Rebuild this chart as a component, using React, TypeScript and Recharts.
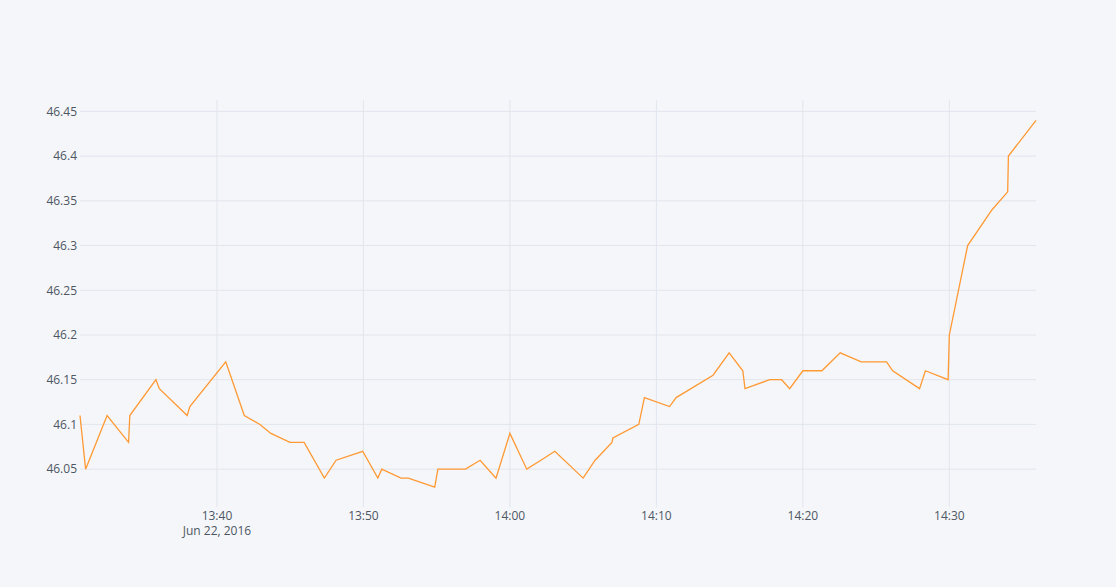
import { LineChart, Line, XAxis, YAxis, CartesianGrid } from "recharts";

const DAY = "2016-06-22";

const TIMES = [
  "13:30:39", "13:31:02", "13:32:30", "13:33:58", "13:34:03", "13:35:50",
  "13:36:04", "13:37:58", "13:38:09", "13:40:36", "13:41:52", "13:42:56",
  "13:43:41", "13:44:59", "13:45:57", "13:47:20", "13:48:08", "13:49:57",
  "13:50:59", "13:51:15", "13:52:34", "13:53:04", "13:54:52", "13:55:05",
  "13:56:58", "13:57:58", "13:59:03", "14:00:00", "14:01:09", "14:02:07",
  "14:03:04", "14:05:00", "14:05:49", "14:06:58", "14:07:02", "14:08:48",
  "14:09:11", "14:10:54", "14:11:21", "14:13:52", "14:14:58", "14:15:54",
  "14:16:03", "14:17:44", "14:18:33", "14:19:06", "14:20:00", "14:21:18",
  "14:22:33", "14:23:59", "14:25:43", "14:26:08", "14:27:58", "14:28:22",
  "14:29:55", "14:30:00", "14:31:15", "14:32:55", "14:33:59", "14:34:02",
  "14:35:55",
];

const PRICES = [
  46.11, 46.05, 46.11, 46.08, 46.11, 46.15,
  46.14, 46.11, 46.12, 46.17, 46.11, 46.1,
  46.09, 46.08, 46.08, 46.04, 46.06, 46.07,
  46.04, 46.05, 46.04, 46.04, 46.03, 46.05,
  46.05, 46.06, 46.04, 46.09, 46.05, 46.06,
  46.07, 46.04, 46.06, 46.08, 46.085, 46.1,
  46.13, 46.12, 46.13, 46.155, 46.18, 46.16,
  46.14, 46.15, 46.15, 46.14, 46.16, 46.16,
  46.18, 46.17, 46.17, 46.16, 46.14, 46.16,
  46.15, 46.2, 46.3, 46.34, 46.36, 46.4,
  46.44,
];

const X_TICKS = ["13:40", "13:50", "14:00", "14:10", "14:20", "14:30"];
const DATE_LABEL = "Jun 22, 2016";
const Y_TICKS = [46.05, 46.1, 46.15, 46.2, 46.25, 46.3, 46.35, 46.4, 46.45];

const toMs = (t: string) => {
  const [h, m, s] = t.split(":").map(Number);
  const [y, mo, d] = DAY.split("-").map(Number);
  return Date.UTC(y, mo - 1, d, h, m, s || 0);
};

const data = TIMES.map((t, i) => ({ t: toMs(t), price: PRICES[i] }));
const xTicks = X_TICKS.map(toMs);

const TEXT = "#4D5663";
const GRID = "#E1E5ED";
const BG = "#F5F6F9";
const FONT = "'Open Sans', sans-serif";

// time on the first line, date under the first tick only (plotly style)
function TimeTick(props: any) {
  const { x, y, payload, index } = props;
  const label = X_TICKS[xTicks.indexOf(payload.value)] ?? "";
  return (
    <g>
      <text x={x} y={y + 13} textAnchor="middle" fill={TEXT} fontSize={12} fontFamily={FONT}>
        {label}
      </text>
      {index === 0 && (
        <text x={x} y={y + 28} textAnchor="middle" fill={TEXT} fontSize={12} fontFamily={FONT}>
          {DATE_LABEL}
        </text>
      )}
    </g>
  );
}

const scaleOf = (axis: any) => {
  const s = axis?.scale;
  if (!s) return null;
  return typeof s === "function" ? s : typeof s.map === "function" ? (v: number) => s.map(v) : null;
};

export default function App() {
  return (
    <div style={{ position: "absolute", left: 0, top: 0, width: 1116, height: 587, background: BG }}>
      <LineChart
        width={1116}
        height={587}
        data={data}
        margin={{ top: 100, right: 80, bottom: 50, left: 0 }}
      >
        <CartesianGrid
          stroke={GRID}
          strokeWidth={1}
          horizontalCoordinatesGenerator={({ yAxis }: any) => {
            const f = scaleOf(yAxis);
            return f ? Y_TICKS.map((v) => f(v)) : [];
          }}
          verticalCoordinatesGenerator={({ xAxis }: any) => {
            const f = scaleOf(xAxis);
            return f ? xTicks.map((v) => f(v)) : [];
          }}
        />
        <XAxis
          dataKey="t"
          type="number"
          domain={["dataMin", "dataMax"]}
          ticks={xTicks}
          tick={<TimeTick />}
          tickLine={false}
          axisLine={false}
          tickSize={0}
          tickMargin={0}
          height={30}
          interval={0}
        />
        <YAxis
          type="number"
          domain={[46.0077, 46.4627]}
          ticks={Y_TICKS}
          tickFormatter={(v: number) => String(parseFloat(v.toFixed(2)))}
          tick={{ fill: TEXT, fontSize: 12, fontFamily: FONT }}
          tickLine={false}
          axisLine={false}
          tickSize={0}
          tickMargin={3}
          width={80}
          allowDataOverflow
        />
        <Line
          type="linear"
          dataKey="price"
          stroke="#FF9933"
          strokeWidth={1.3}
          dot={false}
          isAnimationActive={false}
        />
      </LineChart>
    </div>
  );
}
